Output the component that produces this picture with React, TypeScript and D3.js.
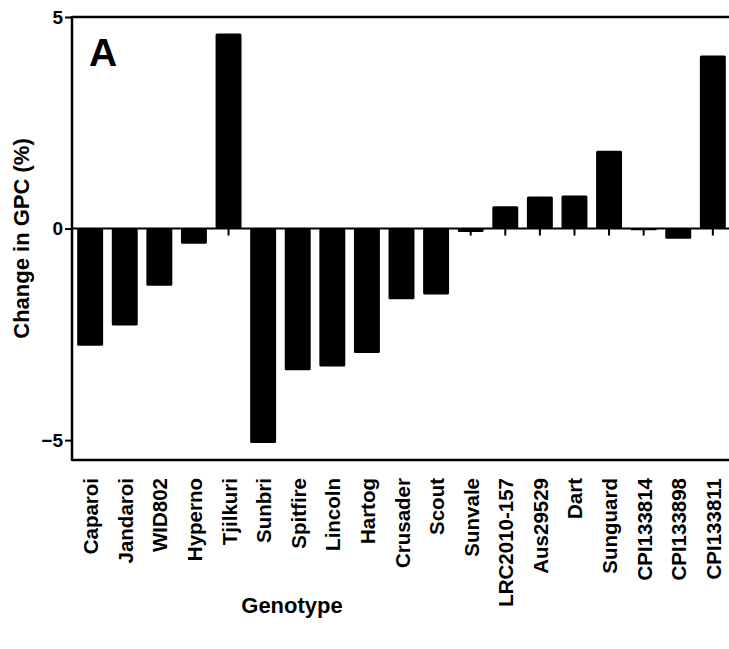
import React, {useEffect, useRef} from 'react';
import * as d3 from 'd3';

// Genotypes along the x axis
const genotypes = [
    "Caparoi", "Jandaroi", "WID802", "Hyperno", "Tjilkuri", "Sunbri", "Spitfire",
    "Lincoln", "Hartog", "Crusader", "Scout", "Sunvale", "LRC2010-157", "Aus29529",
    "Dart", "Sunguard", "CPI133814", "CPI133898", "CPI133811"
];

// Change in grain protein content (%)
const gpcChange = [
    -2.77, -2.29, -1.35, -0.36, 4.61, -5.07, -3.35,
    -3.26, -2.94, -1.67, -1.56, -0.08, 0.53, 0.76,
    0.78, 1.84, -0.04, -0.24, 4.09
];

const yTicks = [-5, 0, 5];

export default function App() {
    const svgRef = useRef<SVGSVGElement>(null);

    const svgWidth = 729,
          svgHeight = 649;

    const plot = {left: 72, right: 731, top: 17, bottom: 460};
    const font = "'Liberation Sans', Arial, sans-serif";

    useEffect(() => {
        const svg = d3.select(svgRef.current);
        svg.selectAll("*").remove();

        const x = d3.scaleBand<string>()
            .domain(genotypes)
            .range([plot.left, plot.right])
            .paddingInner(0.25)
            .paddingOuter(0.15);

        const y = d3.scaleLinear()
            .domain([-5.47, 5])
            .range([plot.bottom, plot.top]);

        const data = genotypes.map((g, i) => ({name: g, value: gpcChange[i]}));

        // Bars
        svg.append("g")
            .selectAll("rect")
            .data(data)
            .enter()
            .append("rect")
            .attr("x", d => x(d.name)!)
            .attr("width", x.bandwidth())
            .attr("y", d => y(Math.max(0, d.value)))
            .attr("height", d => Math.abs(y(d.value) - y(0)))
            .attr("rx", 1.5)
            .attr("fill", "#000");

        // Zero line with small ticks under each genotype
        svg.append("line")
            .attr("x1", plot.left).attr("x2", plot.right)
            .attr("y1", y(0)).attr("y2", y(0))
            .attr("stroke", "#000").attr("stroke-width", 2);

        svg.append("g")
            .selectAll("line")
            .data(genotypes)
            .enter()
            .append("line")
            .attr("x1", d => x(d)! + x.bandwidth() / 2)
            .attr("x2", d => x(d)! + x.bandwidth() / 2)
            .attr("y1", y(0))
            .attr("y2", y(0) + 7)
            .attr("stroke", "#000").attr("stroke-width", 2);

        // Frame: left, top, bottom
        svg.append("line")
            .attr("x1", plot.left).attr("x2", plot.left)
            .attr("y1", plot.top - 1).attr("y2", plot.bottom + 1)
            .attr("stroke", "#000").attr("stroke-width", 2.5);
        svg.append("line")
            .attr("x1", plot.left).attr("x2", plot.right)
            .attr("y1", plot.top).attr("y2", plot.top)
            .attr("stroke", "#000").attr("stroke-width", 2.5);
        svg.append("line")
            .attr("x1", plot.left).attr("x2", plot.right)
            .attr("y1", plot.bottom).attr("y2", plot.bottom)
            .attr("stroke", "#000").attr("stroke-width", 2.5);

        // Y axis ticks
        const yAxis = d3.axisLeft(y)
            .tickValues(yTicks)
            .tickSize(7)
            .tickPadding(2)
            .tickFormat(d3.format("d"));

        const yg = svg.append("g")
            .attr("transform", `translate(${plot.left},0)`)
            .call(yAxis);
        yg.select(".domain").remove();
        yg.selectAll(".tick line").attr("stroke", "#000").attr("stroke-width", 2);
        yg.selectAll(".tick text")
            .attr("fill", "#000")
            .style("font-family", font)
            .style("font-size", "19px")
            .style("font-weight", "bold");

        // X tick labels, rotated
        svg.append("g")
            .selectAll("text")
            .data(genotypes)
            .enter()
            .append("text")
            .attr("transform", d => `translate(${x(d)! + x.bandwidth() / 2 + 8},${plot.bottom + 18}) rotate(-90)`)
            .attr("text-anchor", "end")
            .style("font-family", font)
            .style("font-size", "20.5px")
            .style("font-weight", "bold")
            .text(d => d);

        // Axis titles
        svg.append("text")
            .attr("transform", `translate(${29},${(plot.top + plot.bottom) / 2}) rotate(-90)`)
            .attr("text-anchor", "middle")
            .style("font-family", font)
            .style("font-size", "22px")
            .style("font-weight", "bold")
            .text("Change in GPC (%)");

        svg.append("text")
            .attr("x", 292)
            .attr("y", 613)
            .attr("text-anchor", "middle")
            .style("font-family", font)
            .style("font-size", "22px")
            .style("font-weight", "bold")
            .text("Genotype");

        // Panel letter
        svg.append("text")
            .attr("x", 89)
            .attr("y", 66)
            .style("font-family", font)
            .style("font-size", "39px")
            .style("font-weight", "bold")
            .text("A");
    }, []);

    return (
        <div>
            <svg ref={svgRef} width={svgWidth} height={svgHeight}
                 style={{position: "absolute", left: 0, top: 0, background: "#fff"}}/>
        </div>
    );
}
